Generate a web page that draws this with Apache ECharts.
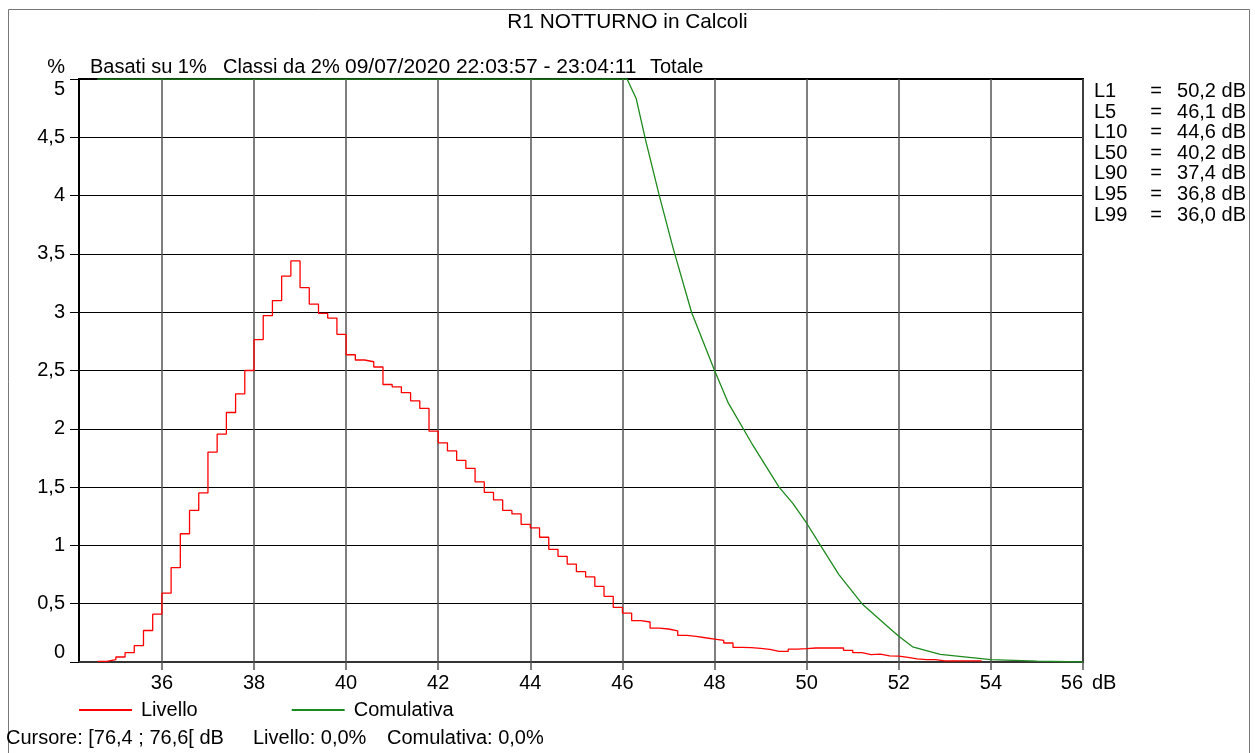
<!DOCTYPE html>
<html>
<head>
<meta charset="utf-8">
<script src="https://cdn.jsdelivr.net/npm/echarts@6/dist/echarts.min.js"></script>
<style>
html,body{margin:0;padding:0;background:#fff;}
#c{width:1255px;height:753px;}
</style>
</head>
<body>
<div id="c"></div>
<script>
// ---- data ----
const titleText = 'R1 NOTTURNO in Calcoli';
const subtitleParts = ['Basati su 1%', 'Classi da 2%', '09/07/2020 22:03:57 - 23:04:11', 'Totale'];
const xTickValues = [36, 38, 40, 42, 44, 46, 48, 50, 52, 54, 56];
const xUnit = 'dB';
const yUnit = '%';

// lower bound of each 0.2 dB class
const classLow = [
  34.6, 34.8, 35.0, 35.2, 35.4, 35.6, 35.8, 36.0, 36.2, 36.4,
  36.6, 36.8, 37.0, 37.2, 37.4, 37.6, 37.8, 38.0, 38.2, 38.4,
  38.6, 38.8, 39.0, 39.2, 39.4, 39.6, 39.8, 40.0, 40.2, 40.4,
  40.6, 40.8, 41.0, 41.2, 41.4, 41.6, 41.8, 42.0, 42.2, 42.4,
  42.6, 42.8, 43.0, 43.2, 43.4, 43.6, 43.8, 44.0, 44.2, 44.4,
  44.6, 44.8, 45.0, 45.2, 45.4, 45.6, 45.8, 46.0, 46.2, 46.4,
  46.6, 46.8, 47.0, 47.2, 47.4, 47.6, 47.8, 48.0, 48.2, 48.4,
  48.6, 48.8, 49.0, 49.2, 49.4, 49.6, 49.8, 50.0, 50.2, 50.4,
  50.6, 50.8, 51.0, 51.2, 51.4, 51.6, 51.8, 52.0, 52.2, 52.4,
  52.6, 52.8, 53.0, 53.2, 53.4, 53.6
];
const classWidth = 0.2;
// Livello (% per class)
const livello = [
  0.005, 0.02, 0.043, 0.08, 0.14, 0.27, 0.41, 0.59, 0.81, 1.10,
  1.30, 1.45, 1.80, 1.955, 2.14, 2.30, 2.50, 2.765, 2.97, 3.10,
  3.31, 3.44, 3.21, 3.07, 2.99, 2.95, 2.81, 2.635, 2.59, 2.575,
  2.53, 2.38, 2.36, 2.31, 2.24, 2.175, 1.98, 1.88, 1.81, 1.73,
  1.66, 1.545, 1.455, 1.39, 1.30, 1.27, 1.18, 1.15, 1.07, 0.966,
  0.906, 0.84, 0.775, 0.73, 0.648, 0.563, 0.468, 0.42, 0.354, 0.343,
  0.29, 0.283, 0.266, 0.228, 0.22, 0.208, 0.197, 0.185, 0.163, 0.125,
  0.123, 0.117, 0.108, 0.091, 0.091, 0.111, 0.114, 0.12, 0.12, 0.12,
  0.12, 0.10, 0.08, 0.063, 0.068, 0.052, 0.05, 0.04, 0.026, 0.02,
  0.02, 0.009, 0.009, 0.009, 0.009, 0.009
];
// Comulativa (clamped at the top of the scale where it is off-chart)
const cumX = [34.6, 46.1, 46.3, 46.5, 46.8, 47.1, 47.5, 48.0, 48.3, 48.8, 49.4, 49.7, 50.0, 50.3, 50.7, 51.2, 51.8, 52.0, 52.3, 52.9, 54.0, 55.0, 56.0];
const cumY = [5.0, 5.0, 4.83, 4.48, 4.0, 3.55, 3.0, 2.5, 2.22, 1.88, 1.5, 1.36, 1.19, 1.0, 0.75, 0.5, 0.29, 0.22, 0.13, 0.065, 0.02, 0.008, 0.0];

const seriesNames = ['Livello', 'Comulativa'];
const statNames = ['L1', 'L5', 'L10', 'L50', 'L90', 'L95', 'L99'];
const statValues = ['50,2', '46,1', '44,6', '40,2', '37,4', '36,8', '36,0'];
const cursorParts = ['Cursore: [76,4 ; 76,6[ dB', 'Livello: 0,0%', 'Comulativa: 0,0%'];

// ---- chart ----
const FONT = '"Liberation Sans", Arial, sans-serif';
const FS = 20;
const chart = echarts.init(document.getElementById('c'), null, {renderer: 'canvas'});

const livelloData = classLow.map((x, i) => [x, livello[i]]);
livelloData.push([classLow[classLow.length - 1] + classWidth, livello[livello.length - 1]]);
const cumData = cumX.map((x, i) => [x, cumY[i]]);

function txt(text, x, y, align, size) {
  return {
    type: 'text', silent: true,
    style: {text: text, x: x, y: y, textAlign: align || 'left', textVerticalAlign: 'middle',
      fontSize: size || FS, fontFamily: FONT, fill: '#000'}
  };
}

const graphics = [];
graphics.push({type: 'rect', silent: true, z: -10,
  shape: {x: 8.5, y: 9.5, width: 1241, height: 800},
  style: {fill: 'none', stroke: '#777', lineWidth: 1}});
graphics.push(txt(titleText, 627.5, 22, 'center', 20.8));
graphics.push(txt(yUnit, 65, 67, 'right'));
const subX = [90, 223, 345, 650];
subtitleParts.forEach((p, i) => graphics.push(txt(p, subX[i], 67, 'left', i === 2 ? 21 : FS)));
graphics.push(txt(xUnit, 1092, 683, 'left'));
statNames.forEach((n, i) => {
  const y = 91.5 + i * 20.6;
  graphics.push(txt(n, 1094, y, 'left'));
  graphics.push(txt('=', 1156, y, 'center'));
  graphics.push(txt(statValues[i] + ' dB', 1246, y, 'right'));
});
const curX = [6, 253, 387];
cursorParts.forEach((p, i) => graphics.push(txt(p, curX[i], 738, 'left')));

chart.setOption({
  animation: false,
  backgroundColor: '#fff',
  grid: {left: 79, top: 79, width: 1004, height: 583, show: true, borderColor: '#000', borderWidth: 2, backgroundColor: 'transparent'},
  legend: {
    data: seriesNames, left: 79, top: 700, padding: 0, itemWidth: 53, itemHeight: 2, itemGap: 94,
    selectedMode: false, icon: 'rect',
    textStyle: {fontSize: FS, fontFamily: FONT, color: '#000', padding: [0, 0, 0, 4]}
  },
  xAxis: {
    type: 'value', min: 34.2, max: 56, splitNumber: 11,
    axisLine: {show: true, onZero: false, lineStyle: {color: '#444', width: 1.5}},
    axisTick: {show: true, length: 8, customValues: xTickValues, lineStyle: {color: '#555', width: 1.5}},
    axisLabel: {customValues: xTickValues, margin: 11, fontSize: FS, fontFamily: FONT, color: '#000',
      alignMaxLabel: 'right', formatter: v => String(v)},
    splitLine: {show: true, lineStyle: {color: '#555', width: 1.5}}
  },
  yAxis: {
    type: 'value', min: 0, max: 5, interval: 0.5,
    axisLine: {show: true, lineStyle: {color: '#000', width: 1.5}},
    axisTick: {show: true, length: 9, lineStyle: {color: '#000', width: 1}},
    axisLabel: {margin: 14, fontSize: FS, fontFamily: FONT, color: '#000',
      formatter: v => String(v).replace('.', ','),
      verticalAlignMinLabel: 'bottom', verticalAlignMaxLabel: 'top'},
    splitLine: {show: true, lineStyle: {color: '#000', width: 1}}
  },
  series: [
    {name: seriesNames[1], type: 'line', data: cumData, symbol: 'none', smooth: false,
      lineStyle: {color: '#1e8a1e', width: 1.3}, itemStyle: {color: '#1e8a1e'}, z: 3},
    {name: seriesNames[0], type: 'line', data: livelloData, step: 'end', symbol: 'none',
      lineStyle: {color: '#ff0000', width: 1.3}, itemStyle: {color: '#ff0000'}, z: 4}
  ],
  graphic: graphics
});
</script>
</body>
</html>
